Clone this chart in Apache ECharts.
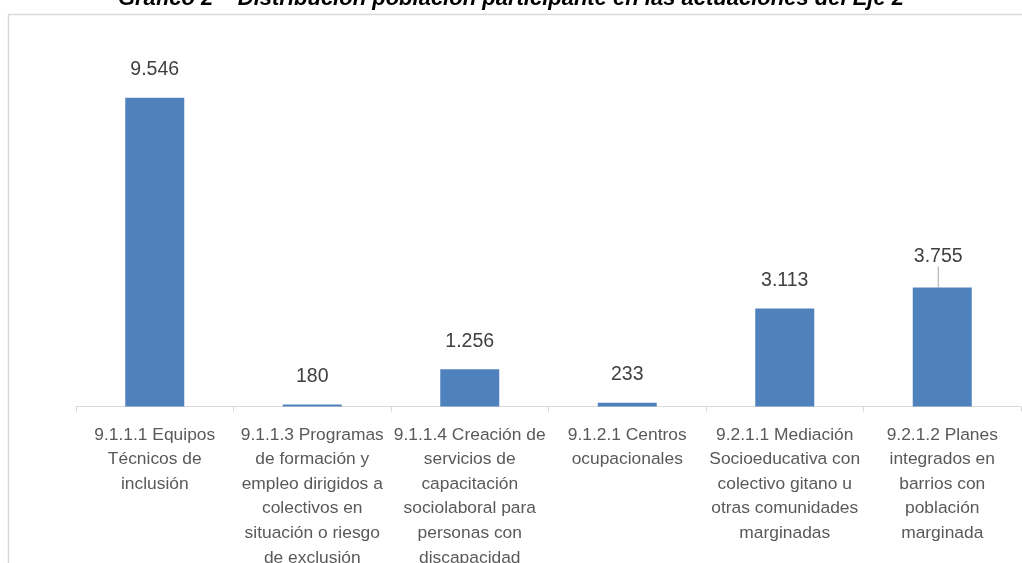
<!DOCTYPE html>
<html>
<head>
<meta charset="utf-8">
<script src="https://cdn.jsdelivr.net/npm/echarts@6/dist/echarts.min.js"></script>
<style>
html,body{margin:0;padding:0;background:#fff;overflow:hidden;}
#chart{width:1022px;height:563px;}
</style>
</head>
<body>
<div id="chart"></div>
<script>
var titleText = 'Gráfico 2 – Distribución población participante en las actuaciones del Eje 2';
var categories = [
  '9.1.1.1 Equipos\nTécnicos de\ninclusión',
  '9.1.1.3 Programas\nde formación y\nempleo dirigidos a\ncolectivos en\nsituación o riesgo\nde exclusión',
  '9.1.1.4 Creación de\nservicios de\ncapacitación\nsociolaboral para\npersonas con\ndiscapacidad',
  '9.1.2.1 Centros\nocupacionales',
  '9.2.1.1 Mediación\nSocioeducativa con\ncolectivo gitano u\notras comunidades\nmarginadas',
  '9.2.1.2 Planes\nintegrados en\nbarrios con\npoblación\nmarginada'
];
var values = [9546, 180, 1256, 233, 3113, 3755];

function fmt(v){
  return String(v).replace(/\B(?=(\d{3})+(?!\d))/g, '.');
}

var seriesData = values.map(function(v, i){
  if (i === 5) {
    return {value: v, labelLine: {show: true, lineStyle: {color: '#a6a6a6', width: 1}}};
  }
  return {value: v, labelLine: {show: false}};
});

var chart = echarts.init(document.getElementById('chart'));
chart.setOption({
  animation: false,
  backgroundColor: '#ffffff',
  textStyle: {fontFamily: "'Liberation Sans', Arial, sans-serif"},
  title: {
    text: titleText,
    left: 'center',
    top: -17,
    textStyle: {fontSize: 22, fontWeight: 'bold', fontStyle: 'italic', color: '#000000', fontFamily: "'Liberation Sans', Arial, sans-serif"}
  },
  graphic: [{
    type: 'rect',
    shape: {x: 8.5, y: 14.5, width: 1100, height: 700},
    style: {fill: 'none', stroke: '#d9d9d9', lineWidth: 1.5},
    silent: true,
    z: -1
  }],
  grid: {left: 76, right: 1, top: 17.3, bottom: 156.5, containLabel: false, outerBoundsMode: 'none'},
  xAxis: {
    type: 'category',
    data: categories,
    axisLine: {lineStyle: {color: '#d9d9d9', width: 1}},
    axisTick: {show: true, length: 5, lineStyle: {color: '#d9d9d9'}},
    axisLabel: {
      interval: 0,
      color: '#595959',
      fontSize: 17.4,
      lineHeight: 24.6,
      margin: 16,
      align: 'center'
    }
  },
  yAxis: {
    type: 'value',
    min: 120,
    max: 12000,
    show: false,
    splitLine: {show: false}
  },
  series: [{
    type: 'bar',
    data: seriesData,
    barWidth: 59,
    itemStyle: {color: '#4f81bd'},
    label: {
      show: true,
      position: 'top',
      distance: 18,
      color: '#404040',
      fontSize: 19.5,
      formatter: function(p){ return fmt(p.value); }
    },
    labelLayout: function(p){
      if (p.dataIndex === 5) { return {dx: -4, dy: -3}; }
      return {};
    }
  }]
});
</script>
</body>
</html>
